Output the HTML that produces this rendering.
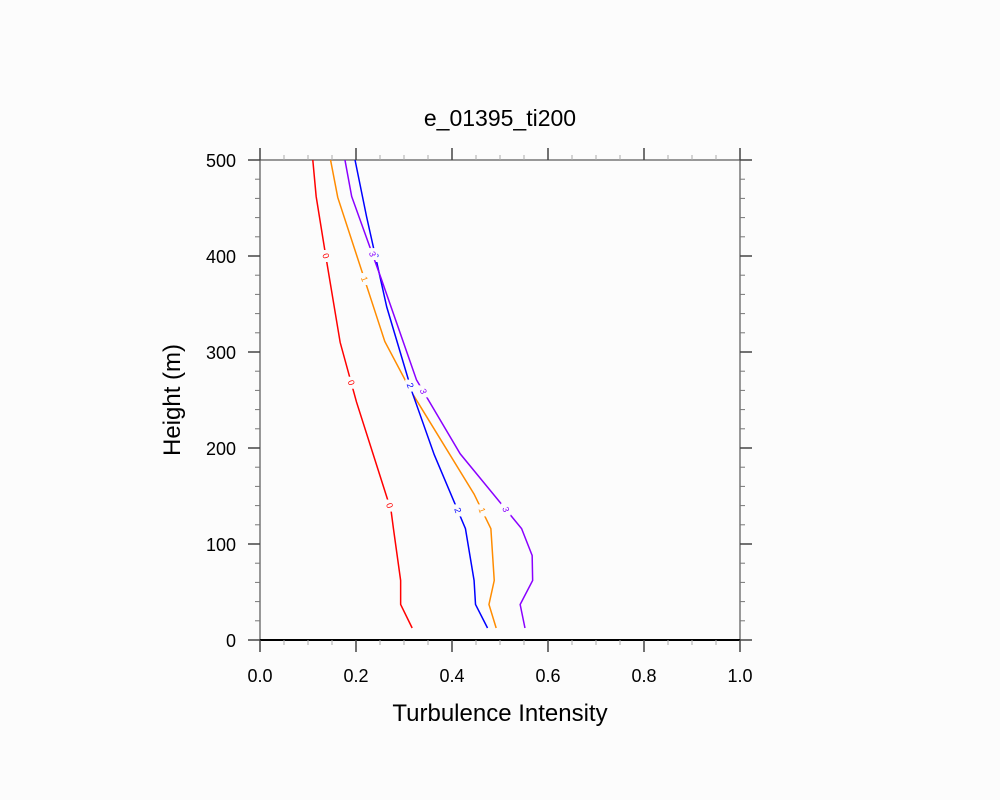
<!DOCTYPE html>
<html><head><meta charset="utf-8"><style>
body{margin:0;background:#fcfcfc;}
svg{display:block;font-family:"Liberation Sans",sans-serif;}
</style></head><body>
<svg id="chart" width="1000" height="800" viewBox="0 0 1000 800">
<rect width="1000" height="800" fill="#fcfcfc"/>
<text x="500" y="126" font-size="23" text-anchor="middle">e_01395_ti200</text>
<text x="500" y="721" font-size="24" text-anchor="middle">Turbulence Intensity</text>
<text transform="translate(180,400) rotate(-90)" font-size="24" text-anchor="middle">Height (m)</text>
<g id="axes"></g>
<g id="series"></g>
</svg>
<script>
const xTicks=[0,0.2,0.4,0.6,0.8,1.0];
const xTickLabels=["0.0","0.2","0.4","0.6","0.8","1.0"];
const yTicks=[0,100,200,300,400,500];
const yTickLabels=["0","100","200","300","400","500"];
const seriesNames=["0","1","2","3"];
const seriesColors=["#ff0000","#ff8c00","#0000ff","#8a00ff"];
const heights0=[12.5,37,62,116,135,248,310,400,462,500];
const ti0=[0.317,0.293,0.293,0.278,0.273,0.201,0.167,0.137,0.117,0.110];
const heights1=[12.5,37,62,116,152,258,311,461,500];
const ti1=[0.492,0.477,0.488,0.481,0.446,0.316,0.260,0.162,0.147];
const heights2=[12.5,37,62,116,193,258,347,441,500];
const ti2=[0.474,0.449,0.446,0.428,0.363,0.317,0.264,0.222,0.198];
const heights3=[12.5,37,62,88,116,194,271,380,462,500];
const ti3=[0.552,0.542,0.568,0.567,0.545,0.417,0.326,0.250,0.191,0.177];
const labelHeights=[[400,268,140],[376,262,135],[400,265,135],[402,259,136]];

const X0=260,X1=740,Y0=640,Y1=160;
const xs=v=>X0+(v-0)/(1-0)*(X1-X0);
const ys=v=>Y0-(v-0)/(500-0)*(Y0-Y1);
const NS="http://www.w3.org/2000/svg";
function mk(t,a,p){const e=document.createElementNS(NS,t);for(const k in a)e.setAttribute(k,a[k]);p.appendChild(e);return e;}
const axes=document.getElementById('axes');
const frame=mk('rect',{x:X0,y:Y1,width:X1-X0,height:Y0-Y1,fill:'none',stroke:'#555','stroke-width':1.2},axes);


const bl=mk('line',{x1:X0,y1:Y0,x2:X1,y2:Y0,stroke:'#000','stroke-width':2},axes);


for(let i=0;i<=20;i++){const v=i*0.05,x=xs(v),maj=i%4==0;const L=maj?12:5;const c=maj?'#444':'#aaa';
 mk('line',{x1:x,y1:Y0,x2:x,y2:Y0+L,stroke:c,'stroke-width':maj?1.5:1},axes);
 mk('line',{x1:x,y1:Y1,x2:x,y2:Y1-L,stroke:c,'stroke-width':maj?1.5:1},axes);}
for(let i=0;i<=25;i++){const v=i*20,y=ys(v),maj=i%5==0;const L=maj?12:5;const c=maj?'#444':'#777';
 mk('line',{x1:X0,y1:y,x2:X0-L,y2:y,stroke:c,'stroke-width':maj?1.5:1},axes);
 mk('line',{x1:X1,y1:y,x2:X1+L,y2:y,stroke:c,'stroke-width':maj?1.5:1},axes);}
xTicks.forEach((v,i)=>{const t=mk('text',{x:xs(v),y:Y0+42,'font-size':18,'text-anchor':'middle'},axes);t.textContent=xTickLabels[i];
 
 });
yTicks.forEach((v,i)=>{const t=mk('text',{x:X0-24,y:ys(v)+7,'font-size':18,'text-anchor':'end'},axes);t.textContent=yTickLabels[i];
 
 });
const sg=document.getElementById('series');
const H=[heights0,heights1,heights2,heights3],T=[ti0,ti1,ti2,ti3];
function interp(h,hs,ts){for(let i=0;i<hs.length-1;i++){if(h>=hs[i]&&h<=hs[i+1]){const f=(h-hs[i])/(hs[i+1]-hs[i]);return ts[i]+f*(ts[i+1]-ts[i]);}}return ts[0];}
H.forEach((hs,s)=>{
 const pts=hs.map((h,i)=>xs(T[s][i])+','+ys(h)).join(' ');
 const p=mk('polyline',{points:pts,fill:'none',stroke:seriesColors[s],'stroke-width':1.5},sg);
 
 
 labelHeights[s].forEach(h=>{const x=xs(interp(h,hs,T[s])),y=ys(h);
  const r=mk('rect',{x:x-5,y:y-6,width:10,height:12,fill:'#fcfcfc'},sg);
  
  
  const t=mk('text',{x:x,y:y+3,'font-size':9,'text-anchor':'middle',fill:seriesColors[s],transform:`rotate(70 ${x} ${y})`},sg);
  t.textContent=seriesNames[s];
  
  });
});
</script>
</body></html>
